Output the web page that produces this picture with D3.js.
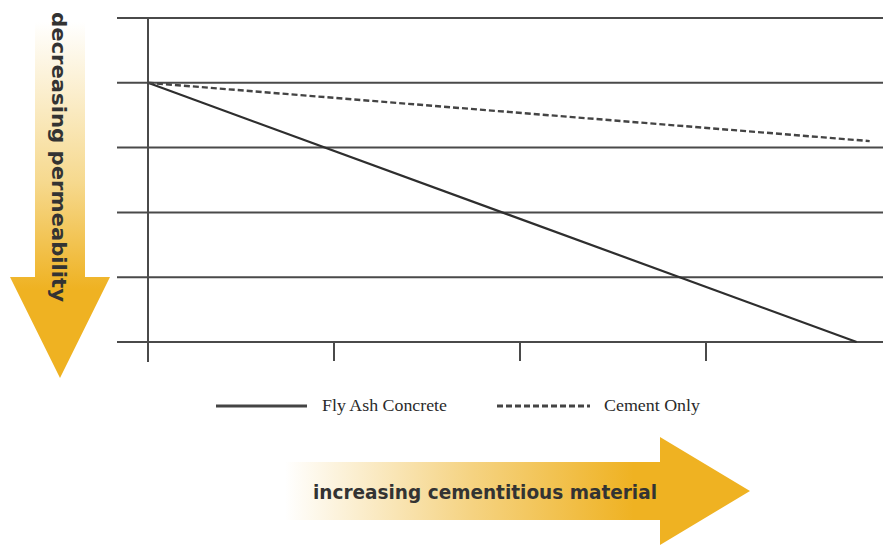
<!DOCTYPE html>
<html>
<head>
<meta charset="utf-8">
<script src="https://cdn.jsdelivr.net/npm/d3@7"></script>
<style>
  body { margin: 0; background: #fff; }
  svg { display: block; }
</style>
</head>
<body>
<div class="chart"></div>
<script>
// ---------------- data ----------------
const seriesNames = ["Fly Ash Concrete", "Cement Only"];
const flyAshX = [0, 3.81];
const flyAshY = [4, 0];
const cementX = [0, 3.88];
const cementY = [4, 3.1];
const yGrid = [0, 1, 2, 3, 4, 5];
const xTicks = [0, 1, 2, 3];
const yTitle = "decreasing permeability";
const xTitle = "increasing cementitious material";

const W = 883, H = 546;
const gold = "#efb222";

const svg = d3.select(".chart").append("svg")
    .attr("width", W).attr("height", H);

const defs = svg.append("defs");

// gradient for vertical arrow (white at top -> gold)
const gv = defs.append("linearGradient").attr("id", "gv")
    .attr("x1", 0).attr("y1", 0).attr("x2", 0).attr("y2", 1);
gv.append("stop").attr("offset", "0%").attr("stop-color", "#fff");
gv.append("stop").attr("offset", "45%").attr("stop-color", "#f6d98e");
gv.append("stop").attr("offset", "75%").attr("stop-color", gold);

// gradient for horizontal arrow (white at left -> gold)
const gh = defs.append("linearGradient").attr("id", "gh")
    .attr("x1", 0).attr("y1", 0).attr("x2", 1).attr("y2", 0);
gh.append("stop").attr("offset", "0%").attr("stop-color", "#fff");
gh.append("stop").attr("offset", "40%").attr("stop-color", "#f5d382");
gh.append("stop").attr("offset", "75%").attr("stop-color", gold);

// scales
const x = d3.scaleLinear().domain([0, 4]).range([148, 892]);
const y = d3.scaleLinear().domain([0, 5]).range([342, 18]);

// ---------------- arrows ----------------
// vertical arrow
svg.append("path")
    .attr("d", "M35,22 L85,22 L85,277 L110,277 L60,378 L10,277 L35,277 Z")
    .attr("fill", "url(#gv)");

svg.append("text")
    .attr("transform", "translate(52,12) rotate(90)")
    .attr("font-family", "'DejaVu Sans', sans-serif")
    .attr("font-weight", "bold")
    .attr("font-size", 20)
    .attr("fill", "#333")
    .attr("textLength", 290)
    .attr("lengthAdjust", "spacingAndGlyphs")
    .text(yTitle);

// horizontal arrow
svg.append("path")
    .attr("d", "M285,462 L660,462 L660,437 L750,491 L660,545 L660,520 L285,520 Z")
    .attr("fill", "url(#gh)");

svg.append("text")
    .attr("x", 313).attr("y", 499)
    .attr("font-family", "'DejaVu Sans', sans-serif")
    .attr("font-weight", "bold")
    .attr("font-size", 20)
    .attr("fill", "#333")
    .attr("textLength", 344)
    .attr("lengthAdjust", "spacingAndGlyphs")
    .text(xTitle);

// ---------------- grid + axes ----------------
svg.append("g").selectAll("line")
    .data(yGrid).join("line")
    .attr("x1", 117).attr("x2", W)
    .attr("y1", d => y(d)).attr("y2", d => y(d))
    .attr("stroke", "#4a4a4a").attr("stroke-width", 2);

// vertical axis line
svg.append("line")
    .attr("x1", x(0)).attr("x2", x(0))
    .attr("y1", y(5)).attr("y2", 362)
    .attr("stroke", "#4a4a4a").attr("stroke-width", 2);

// x ticks
svg.append("g").selectAll("line")
    .data(xTicks.slice(1)).join("line")
    .attr("x1", d => x(d)).attr("x2", d => x(d))
    .attr("y1", y(0)).attr("y2", 361)
    .attr("stroke", "#4a4a4a").attr("stroke-width", 2);

// ---------------- series ----------------
const line = d3.line().x(d => x(d[0])).y(d => y(d[1]));

svg.append("path")
    .datum(d3.zip(flyAshX, flyAshY))
    .attr("d", line)
    .attr("fill", "none")
    .attr("stroke", "#2e2e2e")
    .attr("stroke-width", 2.2);

svg.append("path")
    .datum(d3.zip(cementX, cementY))
    .attr("d", line)
    .attr("fill", "none")
    .attr("stroke", "#444")
    .attr("stroke-width", 2.4)
    .attr("stroke-dasharray", "6,3");

// ---------------- legend ----------------
const legend = svg.append("g").attr("transform", "translate(0,406)");
const legItems = [
    { x0: 216, x1: 307, tx: 322, len: 125, dash: null, name: seriesNames[0] },
    { x0: 497, x1: 590, tx: 604, len: 96, dash: "6,3", name: seriesNames[1] }
];
legItems.forEach(d => {
    legend.append("line")
        .attr("x1", d.x0).attr("x2", d.x1)
        .attr("y1", 0).attr("y2", 0)
        .attr("stroke", "#444").attr("stroke-width", 3)
        .attr("stroke-dasharray", d.dash);
    legend.append("text")
        .attr("x", d.tx).attr("y", 5)
        .attr("font-family", "'Liberation Serif', serif")
        .attr("font-size", 17.5)
        .attr("fill", "#2a2a2a")
        .attr("textLength", d.len)
        .attr("lengthAdjust", "spacingAndGlyphs")
        .text(d.name);
});
</script>
</body>
</html>
